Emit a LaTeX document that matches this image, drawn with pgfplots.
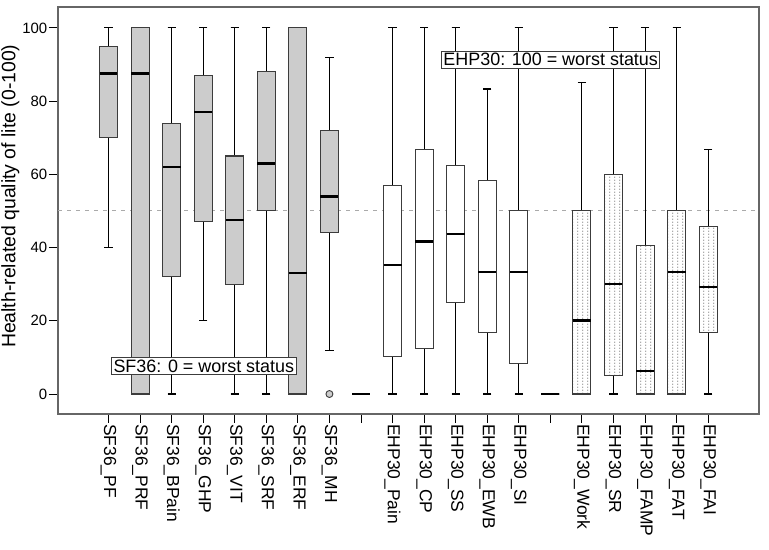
\documentclass[border=0pt]{standalone}
\usepackage{fontspec}
\setmainfont{Liberation Sans}
\usepackage{pgfplots}
\pgfplotsset{compat=1.18}
\usepgfplotslibrary{statistics}
\usetikzlibrary{patterns.meta}
\definecolor{boxgray}{HTML}{CCCCCC}
\definecolor{framec}{HTML}{666666}
\definecolor{edgec}{HTML}{3C3C3C}
\definecolor{refc}{HTML}{AAAAAA}

\tikzdeclarepattern{
  name=vdots, type=uncolored,
  bounding box={(0,0) and (4.5bp,3bp)},
  tile size={(4.5bp,3bp)},
  code={\pgfpathrectangle{\pgfpoint{1.5bp}{0bp}}{\pgfpoint{0.7bp}{1.7bp}}\pgfusepath{fill}}
}

\pgfplotsset{
  bx/.style={boxplot prepared={#1}, draw=edgec, line width=1.1bp,
    boxplot/draw direction=y,
    boxplot/box extend=0.57, boxplot/whisker extend=0.26,
    boxplot/every median/.style={line width=2.6bp, black},
    boxplot/every whisker/.style={black, line width=1.1bp}},
  sf/.style={bx={#1}, fill=boxgray},
  ehp/.style={bx={#1}, fill=white},
  ehpd/.style={bx={#1}, fill=white,
    boxplot/every box/.append style={postaction={pattern=vdots, pattern color=gray}}},
}

\begin{document}
\begin{tikzpicture}
\path[use as bounding box] (-58bp,-136bp) rectangle (711bp,414bp);
\begin{axis}[
  at={(0,0)}, anchor=south west,
  scale only axis, width=701bp, height=407bp,
  xmin=-1.6, xmax=20.61, ymin=-5.46, ymax=105.7,
  xtick={0,...,19},
  xticklabels={SF36\_PF, SF36\_PRF, SF36\_BPain, SF36\_GHP, SF36\_VIT, SF36\_SRF, SF36\_ERF, SF36\_MH, {},
    EHP30\_Pain, EHP30\_CP, EHP30\_SS, EHP30\_EWB, EHP30\_SI, {},
    EHP30\_Work, EHP30\_SR, EHP30\_FAMP, EHP30\_FAT, EHP30\_FAI},
  ytick={0,20,...,100},
  xtick pos=bottom, ytick pos=left,
  tick align=outside, major tick length=9bp,
  axis line style={framec, line width=1.3bp},
  tick style={black, line width=0.9bp},
  y tick label style={font=\fontsize{15}{17}\selectfont, inner sep=1.5bp},
  x tick label style={font=\fontsize{17.5}{20}\selectfont, rotate=-90, anchor=west, inner sep=1bp},
  /pgf/number format/assume math mode=true,
  ylabel={Health-related quality of lite (0-100)},
  every axis y label/.style={at={(axis description cs:-0.068,0.535)}, rotate=90, anchor=center,
    font=\fontsize{19.5}{22}\selectfont},
  clip=false,
]
% reference line at 50
\addplot[refc, line width=1bp, dash pattern=on 4bp off 5bp] coordinates {(-1.6,50) (20.61,50)};

% SF36 (0 = worst status)
\addplot[sf={draw position=0, lower whisker=40, lower quartile=70, median=87.5, upper quartile=95, upper whisker=100}] coordinates {};
\addplot[sf={draw position=1, lower whisker=0, lower quartile=0, median=87.5, upper quartile=100, upper whisker=100}] coordinates {};
\addplot[sf={draw position=2, lower whisker=0, lower quartile=32, median=62, upper quartile=74, upper whisker=100}] coordinates {};
\addplot[sf={draw position=3, lower whisker=20, lower quartile=47, median=77, upper quartile=87, upper whisker=100}] coordinates {};
\addplot[sf={draw position=4, lower whisker=0, lower quartile=30, median=47.5, upper quartile=65, upper whisker=100}] coordinates {};
\addplot[sf={draw position=5, lower whisker=0, lower quartile=50, median=63, upper quartile=88, upper whisker=100}] coordinates {};
\addplot[sf={draw position=6, lower whisker=0, lower quartile=0, median=33, upper quartile=100, upper whisker=100}] coordinates {};
\addplot[sf={draw position=7, lower whisker=12, lower quartile=44, median=54, upper quartile=72, upper whisker=92},
  mark=*, mark size=3.5bp, mark options={fill=boxgray, draw=edgec, line width=0.9bp}]
  table[row sep=\\, y index=0] {data\\ 0\\};
\addplot[sf={draw position=8, lower whisker=0, lower quartile=0, median=0, upper quartile=0, upper whisker=0}] coordinates {};

% EHP30 core (100 = worst status)
\addplot[ehp={draw position=9, lower whisker=0, lower quartile=10.2, median=35.2, upper quartile=57, upper whisker=100}] coordinates {};
\addplot[ehp={draw position=10, lower whisker=0, lower quartile=12.5, median=41.7, upper quartile=66.7, upper whisker=100}] coordinates {};
\addplot[ehp={draw position=11, lower whisker=0, lower quartile=25, median=43.75, upper quartile=62.5, upper whisker=100}] coordinates {};
\addplot[ehp={draw position=12, lower whisker=0, lower quartile=16.7, median=33.3, upper quartile=58.3, upper whisker=83.3}] coordinates {};
\addplot[ehp={draw position=13, lower whisker=0, lower quartile=8.3, median=33.3, upper quartile=50, upper whisker=100}] coordinates {};
\addplot[ehp={draw position=14, lower whisker=0, lower quartile=0, median=0, upper quartile=0, upper whisker=0}] coordinates {};

% EHP30 modules
\addplot[ehpd={draw position=15, lower whisker=0, lower quartile=0, median=20, upper quartile=50, upper whisker=85}] coordinates {};
\addplot[ehpd={draw position=16, lower whisker=0, lower quartile=5, median=30, upper quartile=60, upper whisker=100}] coordinates {};
\addplot[ehpd={draw position=17, lower whisker=0, lower quartile=0, median=6.25, upper quartile=40.6, upper whisker=100}] coordinates {};
\addplot[ehpd={draw position=18, lower whisker=0, lower quartile=0, median=33.3, upper quartile=50, upper whisker=100}] coordinates {};
\addplot[ehpd={draw position=19, lower whisker=0, lower quartile=16.7, median=29.2, upper quartile=45.8, upper whisker=66.7}] coordinates {};

\node[draw=edgec, line width=0.9bp, fill=white, inner sep=2bp, font=\fontsize{18}{20}\selectfont]
  at (axis cs:14.01,91.3) {EHP30: 100 = worst status};
\node[draw=edgec, line width=0.9bp, fill=white, inner sep=2bp, font=\fontsize{18}{20}\selectfont]
  at (axis cs:3.02,7.65) {SF36: 0 = worst status};
\end{axis}
\end{tikzpicture}
\end{document}
